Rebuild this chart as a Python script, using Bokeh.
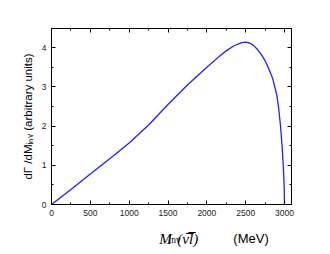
from bokeh.plotting import figure
from bokeh.layouts import column
from bokeh.models import Range1d, LinearAxis, Label, FixedTicker
from bokeh.embed import file_html
from bokeh.resources import INLINE

# Invariant mass (MeV) and dGamma/dM_inv (arbitrary units)
m_inv = [0, 250, 500, 750, 1000, 1250, 1500, 1750, 2000, 2150, 2250, 2350, 2450,
         2500, 2550, 2600, 2650, 2700, 2750, 2800, 2850, 2900, 2925, 2950, 2970,
         2985, 2995, 3000]
rate = [0, 0.38, 0.78, 1.17, 1.57, 2.03, 2.55, 3.05, 3.5, 3.76, 3.92, 4.05, 4.13,
        4.14, 4.12, 4.06, 3.96, 3.83, 3.67, 3.45, 3.2, 2.8, 2.45, 1.97, 1.45,
        0.95, 0.5, 0]

x_ticks = [0, 500, 1000, 1500, 2000, 2500, 3000]
y_ticks = [0, 1, 2, 3, 4]
y_title = "dΓ /dMᵢₙᵥ (arbitrary units)"

W = 330
H = 254
TOP_H = 220

serif = "Liberation Serif"
sans = "Liberation Sans"

# ---- main chart ----
p = figure(width=W, height=TOP_H, output_backend="svg", toolbar_location=None,
           x_range=Range1d(0, 3090), y_range=Range1d(0, 4.49),
           x_axis_location=None, y_axis_location=None,
           min_border_left=51, min_border_right=39, min_border_top=28,
           min_border_bottom=16)
p.grid.visible = False
p.outline_line_color = "black"
p.outline_line_width = 1
p.background_fill_color = "white"
p.border_fill_color = "white"

def make_axis(show_labels):
    ax = LinearAxis()
    ax.major_tick_in = 4
    ax.major_tick_out = 0
    ax.minor_tick_in = 2
    ax.minor_tick_out = 0
    ax.axis_line_color = "black"
    ax.major_tick_line_color = "black"
    ax.minor_tick_line_color = "black"
    ax.major_label_text_font = sans
    ax.major_label_text_font_size = "8.5px"
    ax.major_label_text_color = "#222222"
    ax.major_label_standoff = 5
    if not show_labels:
        ax.major_label_text_font_size = "0px"
        ax.major_label_text_alpha = 0
    return ax

for loc, show in (("below", True), ("above", False)):
    ax = make_axis(show)
    ax.ticker = FixedTicker(ticks=x_ticks, minor_ticks=list(range(0, 3100, 250)))
    p.add_layout(ax, loc)
for loc, show in (("left", True), ("right", False)):
    ax = make_axis(show)
    ax.ticker = FixedTicker(ticks=y_ticks, minor_ticks=[i * 0.5 for i in range(10)])
    if loc == "left":
        ax.axis_label = y_title
        ax.axis_label_text_font = sans
        ax.axis_label_text_font_size = "11.5px"
        ax.axis_label_text_font_style = "normal"
        ax.axis_label_text_color = "black"
        ax.axis_label_standoff = 5
    p.add_layout(ax, loc)

p.line(m_inv, rate, line_color="#2020ff", line_width=1.3)

# ---- x label panel ----
BH = H - TOP_H
xl = figure(width=W, height=BH, output_backend="svg", toolbar_location=None,
            x_range=Range1d(0, W), y_range=Range1d(0, BH), min_border=0,
            x_axis_location=None, y_axis_location=None, title=None)
xl.grid.visible = False
xl.outline_line_color = None
xl.background_fill_color = "white"
xl.border_fill_color = "white"

def lab(x, y, text, font, size, style="normal"):
    # x, y: page pixels from the top-left corner of the whole picture
    xl.add_layout(Label(x=x, y=BH - (y - TOP_H), text=text, text_font=font,
                        text_font_style=style, text_font_size=size,
                        text_color="black", text_baseline="alphabetic"))

lab(148, 238, "M", serif, "15px", style="italic")
lab(161, 239, "inv", serif, "9.5px")
lab(173, 238, "(ν̅l̅)", serif, "15px", style="italic")
lab(250, 238, "(MeV)", sans, "13px")

layout = column(p, xl, spacing=0)
open("out.html", "w").write(file_html(layout, INLINE))
